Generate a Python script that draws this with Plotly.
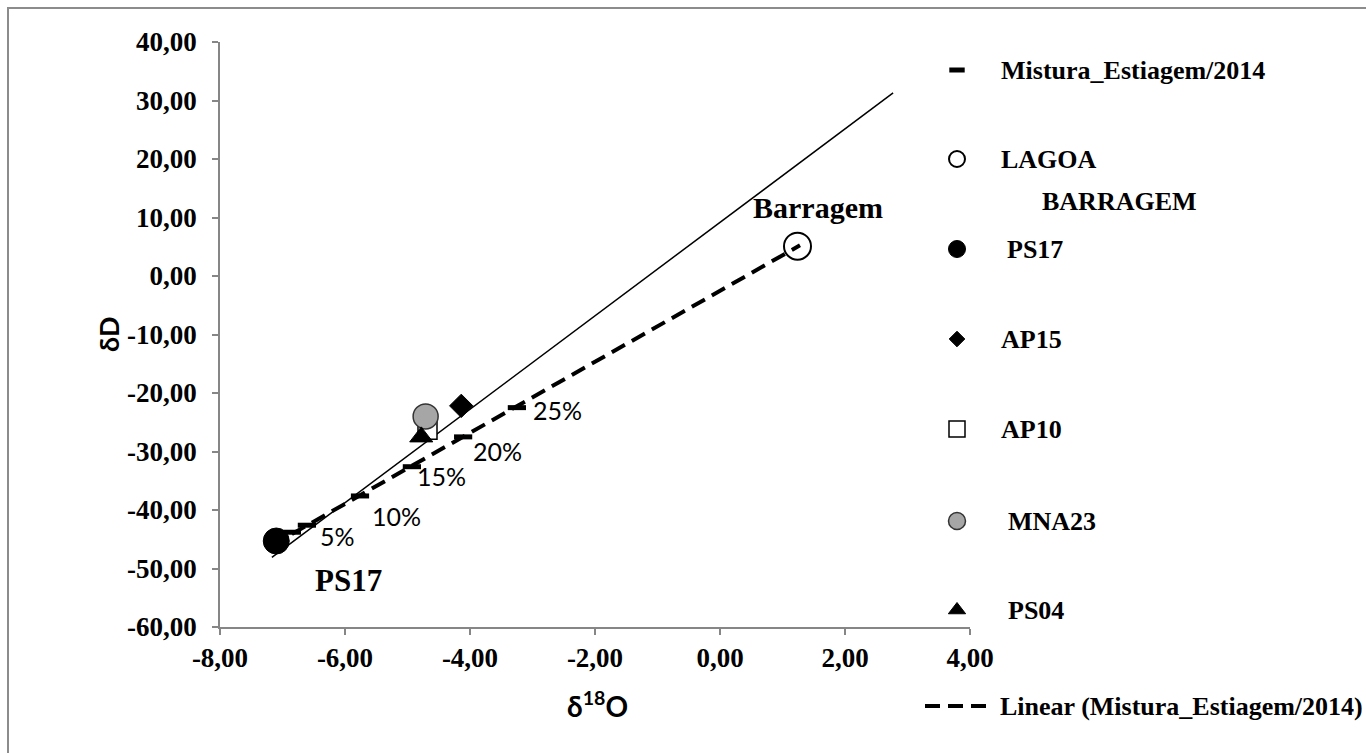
import plotly.graph_objects as go
import numpy as np

W, H = 1366, 753

# ---------------- data ----------------
mist_x = [-6.85, -6.61, -5.76, -4.93, -4.11, -3.25, 1.28]
mist_y = [-43.8, -42.6, -37.6, -32.6, -27.5, -22.5, 5.4]
mist_labels = ["", "5%", "10%", "15%", "20%", "25%", ""]

lagoa_x, lagoa_y = [1.24], [5.1]
ps17_x, ps17_y = [-7.10], [-45.3]
ap15_x, ap15_y = [-4.14], [-22.2]
ap10_x, ap10_y = [-4.68], [-26.3]
mna23_x, mna23_y = [-4.71], [-24.0]
ps04_x, ps04_y = [-4.78], [-27.5]

gmwl_x = [-7.17, 2.77]
gmwl_y = [-48.1, 31.3]

x_ticks = [-8, -6, -4, -2, 0, 2, 4]
y_ticks = [40, 30, 20, 10, 0, -10, -20, -30, -40, -50, -60]
x_ticktext = [f"{v:.2f}".replace(".", ",") for v in x_ticks]
y_ticktext = [f"{v:.2f}".replace(".", ",") for v in y_ticks]

legend_names = ["Mistura_Estiagem/2014", "LAGOA", "PS17", "AP15", "AP10", "MNA23", "PS04",
                "Linear (Mistura_Estiagem/2014)"]

# ---------------- layout constants ----------------
PL, PR, PT, PB = 220, 970, 42, 627
SERIF = "Liberation Serif"
SANS = "Lato"
BLACK = "#000000"
GRAY_AX = "#868686"
CLEAR = "rgba(0,0,0,0)"

fig = go.Figure()

# meteoric water line
fig.add_trace(go.Scatter(x=gmwl_x, y=gmwl_y, mode="lines",
                         line=dict(color=BLACK, width=1.5), showlegend=False, hoverinfo="skip"))

# mixture points
fig.add_trace(go.Scatter(x=mist_x, y=mist_y, mode="markers",
                         marker=dict(symbol="line-ew", size=13, line=dict(color=BLACK, width=5)),
                         showlegend=False))
fig.add_trace(go.Scatter(x=lagoa_x, y=lagoa_y, mode="markers",
                         marker=dict(symbol="circle", size=27, color="white",
                                     line=dict(color=BLACK, width=2)), showlegend=False))
fig.add_trace(go.Scatter(x=ps17_x, y=ps17_y, mode="markers",
                         marker=dict(symbol="circle", size=26, color=BLACK,
                                     line=dict(color=BLACK, width=1)), showlegend=False))
fig.add_trace(go.Scatter(x=ap15_x, y=ap15_y, mode="markers",
                         marker=dict(symbol="diamond", size=18, color=BLACK,
                                     line=dict(color=BLACK, width=1)), showlegend=False))
fig.add_trace(go.Scatter(x=ap10_x, y=ap10_y, mode="markers",
                         marker=dict(symbol="square", size=19, color="white",
                                     line=dict(color=BLACK, width=1.5)), showlegend=False))
fig.add_trace(go.Scatter(x=mna23_x, y=mna23_y, mode="markers",
                         marker=dict(symbol="circle", size=25, color="#a6a6a6",
                                     line=dict(color="#333333", width=1.5)), showlegend=False))
fig.add_trace(go.Scatter(x=ps04_x, y=ps04_y, mode="markers",
                         marker=dict(symbol="triangle-up", size=20, color=BLACK,
                                     line=dict(color=BLACK, width=1)), showlegend=False))

# linear trendline of the mixture series
coef = np.polyfit(mist_x, mist_y, 1)
tx = [min(mist_x), max(mist_x)]
ty = list(np.polyval(coef, tx))
fig.add_trace(go.Scatter(x=tx, y=ty, mode="lines",
                         line=dict(color=BLACK, width=4, dash="15px,8px"),
                         showlegend=False, hoverinfo="skip"))

# ---------------- manual legend (overlay pixel axes) ----------------
leg_y = [70, 159, 249, 339, 429, 521, 610, 706]
leg_sym_x = 957
leg_text_x = [999, 999, 1005, 999, 999, 1006, 1006, 998]

sym_specs = [
    dict(symbol="line-ew", size=11, line=dict(color=BLACK, width=5)),
    dict(symbol="circle", size=16, color="white", line=dict(color=BLACK, width=2)),
    dict(symbol="circle", size=17, color=BLACK, line=dict(color=BLACK, width=1)),
    dict(symbol="diamond", size=12, color=BLACK, line=dict(color=BLACK, width=1)),
    dict(symbol="square", size=16, color="white", line=dict(color=BLACK, width=1.5)),
    dict(symbol="circle", size=17, color="#a6a6a6", line=dict(color="#333333", width=1.5)),
    dict(symbol="triangle-up", size=15, color=BLACK, line=dict(color=BLACK, width=1)),
]
for i, spec in enumerate(sym_specs):
    fig.add_trace(go.Scatter(x=[leg_sym_x], y=[leg_y[i]], mode="markers", marker=spec,
                             xaxis="x2", yaxis="y2", showlegend=False, hoverinfo="skip"))
fig.add_trace(go.Scatter(x=[925, 993], y=[leg_y[7], leg_y[7]], mode="lines",
                         line=dict(color=BLACK, width=4, dash="15px,8px"),
                         xaxis="x2", yaxis="y2", showlegend=False, hoverinfo="skip"))

annotations = []
for i, name in enumerate(legend_names):
    annotations.append(dict(x=leg_text_x[i], y=leg_y[i], xref="x2", yref="y2",
                            text=name, showarrow=False, xanchor="left", yanchor="middle",
                            font=dict(family=SERIF, size=26, color=BLACK, weight="bold")))
annotations.append(dict(x=1040, y=201, xref="x2", yref="y2",
                        text="BARRAGEM", showarrow=False, xanchor="left", yanchor="middle",
                        font=dict(family=SERIF, size=26, color=BLACK, weight="bold")))

# percentage data labels (offsets in pixels)
label_shift = [(0, 0), (31, -11), (36, -20), (30, -9), (34, -14), (41, -2), (0, 0)]
for xv, yv, lab, (sx, sy) in zip(mist_x, mist_y, mist_labels, label_shift):
    if lab:
        annotations.append(dict(x=xv, y=yv, xref="x", yref="y", text=lab, showarrow=False,
                                xshift=sx, yshift=sy,
                                font=dict(family=SANS, size=25, color=BLACK)))

# point name labels
annotations.append(dict(x=lagoa_x[0], y=lagoa_y[0], xref="x", yref="y", text="Barragem",
                        showarrow=False, xshift=20, yshift=39,
                        font=dict(family=SERIF, size=30, color=BLACK, weight="bold")))
annotations.append(dict(x=ps17_x[0], y=ps17_y[0], xref="x", yref="y", text="PS17",
                        showarrow=False, xshift=72, yshift=-39,
                        font=dict(family=SERIF, size=31, color=BLACK, weight="bold")))

# axis titles
annotations.append(dict(x=108, y=334, xref="x2", yref="y2", text="δD",
                        textangle=-90, showarrow=False,
                        font=dict(family=SANS, size=27, color=BLACK, weight="bold")))
annotations.append(dict(x=597, y=704, xref="x2", yref="y2",
                        text="δ<sup>18</sup>O", showarrow=False,
                        font=dict(family=SANS, size=28, color=BLACK, weight="bold")))

fig.update_layout(
    width=W, height=H,
    margin=dict(l=0, r=0, t=0, b=0, pad=0, autoexpand=False),
    paper_bgcolor="white", plot_bgcolor=CLEAR,
    showlegend=False,
    xaxis=dict(domain=[PL / W, PR / W], range=[-8, 4], tickvals=x_ticks, ticktext=x_ticktext,
               showgrid=False, zeroline=False, showline=True, linecolor=GRAY_AX, linewidth=1.5,
               ticks="outside", ticklen=6, tickcolor=GRAY_AX, tickwidth=1.5,
               tickfont=dict(family=SERIF, size=27, color=BLACK, weight="bold"),
               anchor="y", fixedrange=True, automargin=False),
    yaxis=dict(domain=[1 - PB / H, 1 - PT / H], range=[-60, 40], tickvals=y_ticks,
               ticktext=y_ticktext,
               showgrid=False, zeroline=False, showline=True, linecolor=GRAY_AX, linewidth=1.5,
               ticks="outside", ticklen=6, tickcolor=GRAY_AX, tickwidth=1.5,
               ticklabelstandoff=10,
               tickfont=dict(family=SERIF, size=27, color=BLACK, weight="bold"),
               anchor="x", fixedrange=True, automargin=False),
    xaxis2=dict(domain=[0, 1], range=[0, W], visible=False, anchor="y2", fixedrange=True),
    yaxis2=dict(domain=[0, 1], range=[H, 0], visible=False, anchor="x2", fixedrange=True),
    annotations=annotations,
    shapes=[dict(type="rect", xref="x2", yref="y2", x0=8, y0=8, x1=W + 40, y1=H + 40,
                 line=dict(color="#8c8c8c", width=2), layer="below")],
)

fig.write_html("out.html")
